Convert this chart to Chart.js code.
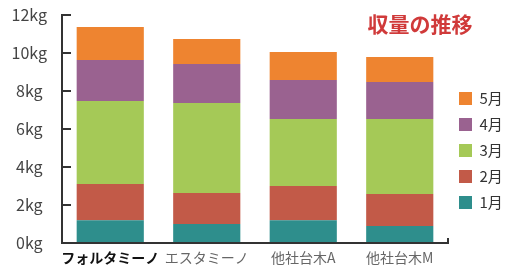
<!DOCTYPE html>
<html>
<head>
<meta charset="utf-8">
<script src="https://cdn.jsdelivr.net/npm/chart.js@4"></script>
<style>
  body { margin: 0; background: #fff; }
  #wrap { width: 512px; height: 266px; position: relative; }
</style>
</head>
<body>
<div id="wrap"><canvas id="yieldChart"></canvas></div>
<script>
// 収量の推移 (kg)
const varieties = ["フォルタミーノ", "エスタミーノ", "他社台木A", "他社台木M"];
const months = ["1月", "2月", "3月", "4月", "5月"];
const jan = [1.2, 1.0, 1.2, 0.9];
const feb = [1.9, 1.63, 1.8, 1.68];
const mar = [4.37, 4.74, 3.53, 3.95];
const apr = [2.16, 2.05, 2.05, 1.94];
const may = [1.74, 1.32, 1.47, 1.32];
const yTicks = [0, 2, 4, 6, 8, 10, 12];

const colors = ["#2E8E8C", "#C25A48", "#A5C957", "#9A6290", "#EE8430"];
const series = [jan, feb, mar, apr, may];
const jpFont = "'Noto Sans CJK JP', 'Noto Sans', sans-serif";

// title drawn inside the plot, top right
const titlePlugin = {
    id: "cornerTitle",
    afterDraw(chart) {
        const ctx = chart.ctx;
        ctx.save();
        ctx.font = "bold 21px " + jpFont;
        ctx.fillStyle = "#D03A3A";
        ctx.textAlign = "center";
        ctx.textBaseline = "middle";
        ctx.fillText("収量の推移", 420, 24);
        ctx.restore();
    }
};

// fixed legend width
const legendWidth = {
    id: "legendWidth",
    beforeInit(chart) {
        const fit = chart.legend.fit;
        chart.legend.fit = function () {
            fit.call(this);
            this.width = 64;
        };
    }
};

const ctx = document.getElementById("yieldChart").getContext("2d");
new Chart(ctx, {
    type: "bar",
    data: {
        labels: varieties,
        datasets: series.map((d, i) => ({
            label: months[i],
            data: d,
            backgroundColor: colors[i],
            borderWidth: 0,
            barPercentage: 0.696,
            categoryPercentage: 1
        }))
    },
    options: {
        responsive: true,
        maintainAspectRatio: false,
        animation: false,
        layout: { padding: { top: 15, left: 0, right: 0, bottom: 0 } },
        plugins: {
            tooltip: { enabled: false },
            legend: {
                position: "right",
                align: "start",
                reverse: true,
                title: { display: true, text: " ", font: { size: 10 }, padding: { top: 0, bottom: 53 } },
                labels: {
                    boxWidth: 13,
                    boxHeight: 13,
                    padding: 11,
                    color: "#333",
                    font: { family: jpFont, size: 15 }
                }
            }
        },
        scales: {
            x: {
                stacked: true,
                afterFit: s => { s.height = 23; },
                border: { display: true, color: "#333", width: 2 },
                grid: {
                    drawOnChartArea: false,
                    drawTicks: true,
                    tickLength: -5,
                    lineWidth: 2,
                    color: c => c.type === "tick" ? "rgba(0,0,0,0)" : "#333"
                },
                ticks: {
                    padding: 11,
                    maxRotation: 0,
                    autoSkip: false,
                    color: c => c.index === 0 ? "#111" : "#666",
                    font: c => ({ family: jpFont, size: 14, weight: c.index === 0 ? "bold" : "normal" })
                }
            },
            y: {
                stacked: true,
                min: 0,
                max: 12,
                afterFit: s => {
                    s.width = 62;
                    s.paddingTop = 0;
                    s.paddingBottom = 0;
                },
                afterBuildTicks: s => { s.ticks = yTicks.map(v => ({ value: v })); },
                border: { display: true, color: "#333", width: 2 },
                grid: {
                    drawOnChartArea: false,
                    drawTicks: true,
                    tickLength: -9,
                    lineWidth: 2,
                    color: "#333"
                },
                ticks: {
                    crossAlign: "center",
                    padding: 24,
                    color: "#444",
                    font: { family: jpFont, size: 16 },
                    callback: v => v + "kg"
                }
            }
        }
    },
    plugins: [titlePlugin, legendWidth]
});
</script>
</body>
</html>
